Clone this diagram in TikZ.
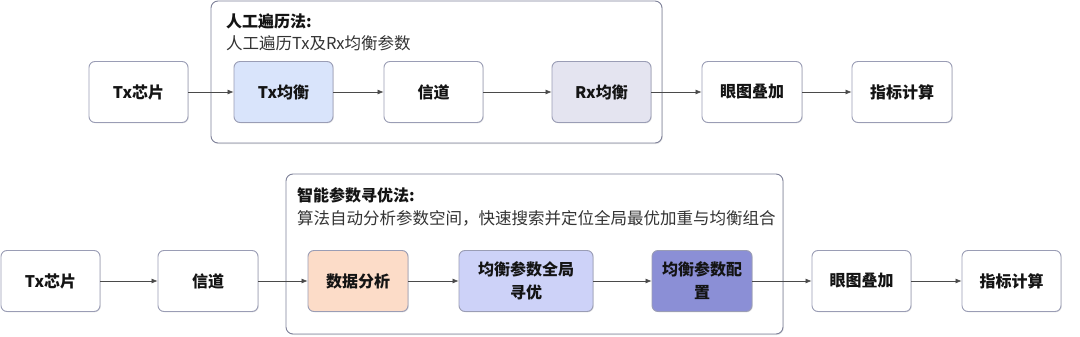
\documentclass[tikz,border=0pt]{standalone}
\usepackage{fontspec}
\setmainfont{Noto Sans CJK SC}
\usetikzlibrary{arrows.meta,shadows}
\definecolor{bordc}{HTML}{9A9DB5}
\definecolor{contc}{HTML}{7E8199}
\definecolor{txeq}{HTML}{D9E4FB}
\definecolor{rxeq}{HTML}{E4E4F0}
\definecolor{dana}{HTML}{FCDCC8}
\definecolor{gopt}{HTML}{CDD2F8}
\definecolor{pcfg}{HTML}{8B8FD6}
\definecolor{arrc}{HTML}{4A4A4A}
\tikzset{
  x=1pt,y=-1pt,
  stepbox/.style={draw=bordc,line width=0.9pt,rounded corners=6pt,fill=white,
    minimum height=61pt,align=center,inner sep=2pt,
    font=\fontsize{16}{23}\selectfont\bfseries,text=black!92,
    drop shadow={shadow xshift=0.8pt,shadow yshift=-0.8pt,opacity=0.25,fill=black!40}},
  container/.style={draw=contc,line width=0.9pt,rounded corners=7pt,fill=white,
    drop shadow={shadow xshift=0.8pt,shadow yshift=-1pt,opacity=0.25,fill=black!40}},
  flow/.style={-{Latex[length=6pt,width=5pt]},draw=arrc,line width=0.6pt},
  ttl/.style={anchor=base west,inner sep=0pt,font=\fontsize{16}{18}\selectfont\bfseries,text=black!92},
  sub/.style={anchor=base west,inner sep=0pt,font=\fontsize{16.5}{18}\selectfont,text=black!80},
}
\begin{document}
\begin{tikzpicture}
\useasboundingbox (0,0) rectangle (1080,337);
% containers
\node[container,minimum width=451pt,minimum height=142pt,inner sep=0pt] (c1) at (436.5,72) {};
\node[container,minimum width=497pt,minimum height=160pt,inner sep=0pt] (c2) at (534.5,254) {};
\node[ttl] (t1) at (226,28) {人工遍历法:};
\node[sub] (s1) at (226,50) {人工遍历Tx及Rx均衡参数};
\node[ttl] (t2) at (297,201) {智能参数寻优法:};
\node[sub] (s2) at (297,224) {算法自动分析参数空间，快速搜索并定位全局最优加重与均衡组合};
% top row
\node[stepbox,minimum width=99pt] (a1) at (138.5,92) {Tx芯片};
\node[stepbox,minimum width=99pt,fill=txeq] (a2) at (283.5,92) {Tx均衡};
\node[stepbox,minimum width=99pt] (a3) at (433.5,92) {信道};
\node[stepbox,minimum width=99pt,fill=rxeq] (a4) at (601.5,92) {Rx均衡};
\node[stepbox,minimum width=100pt] (a5) at (752,92) {眼图叠加};
\node[stepbox,minimum width=100pt] (a6) at (902,92) {指标计算};
\draw[flow] (a1) -- (a2);
\draw[flow] (a2) -- (a3);
\draw[flow] (a3) -- (a4);
\draw[flow] (a4) -- (a5);
\draw[flow] (a5) -- (a6);
% bottom row
\node[stepbox,minimum width=99pt] (b1) at (50.5,281) {Tx芯片};
\node[stepbox,minimum width=100pt] (b2) at (208,281) {信道};
\node[stepbox,minimum width=100pt,fill=dana] (b3) at (358,281) {数据分析};
\node[stepbox,minimum width=134pt,fill=gopt] (b4) at (526,281) {均衡参数全局\\寻优};
\node[stepbox,minimum width=100pt,fill=pcfg] (b5) at (702,281) {均衡参数配\\置};
\node[stepbox,minimum width=99pt] (b6) at (861.5,281) {眼图叠加};
\node[stepbox,minimum width=99pt] (b7) at (1011.5,281) {指标计算};
\draw[flow] (b1) -- (b2);
\draw[flow] (b2) -- (b3);
\draw[flow] (b3) -- (b4);
\draw[flow] (b4) -- (b5);
\draw[flow] (b5) -- (b6);
\draw[flow] (b6) -- (b7);
\end{tikzpicture}
\end{document}
